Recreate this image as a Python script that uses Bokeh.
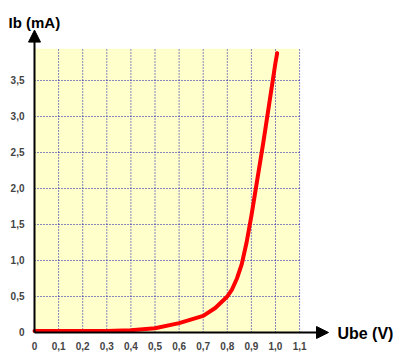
from bokeh.plotting import figure
from bokeh.models import Range1d, FixedTicker, Arrow, NormalHead, Label
from bokeh.embed import file_html
from bokeh.resources import INLINE

# ---- data ----
ube = [0, 0.1, 0.2, 0.3, 0.4, 0.5, 0.6, 0.7, 0.75, 0.8, 0.82, 0.84, 0.86, 0.88, 0.9, 0.95, 1.0, 1.007]
ib = [0.02, 0.02, 0.02, 0.022, 0.03, 0.06, 0.13, 0.23, 0.34, 0.5, 0.6, 0.75, 0.95, 1.25, 1.62, 2.65, 3.75, 3.88]

x_ticks = [0, 0.1, 0.2, 0.3, 0.4, 0.5, 0.6, 0.7, 0.8, 0.9, 1.0, 1.1]
x_labels = ["0", "0,1", "0,2", "0,3", "0,4", "0,5", "0,6", "0,7", "0,8", "0,9", "1,0", "1,1"]
y_ticks = [0, 0.5, 1.0, 1.5, 2.0, 2.5, 3.0, 3.5]
y_labels = ["0", "0,5", "1,0", "1,5", "2,0", "2,5", "3,0", "3,5"]

x_title = "Ube (V)"
y_title = "Ib (mA)"

# plotting area (yellow box) and view extents, in data units
X_MAX = 1.1
Y_MAX = 3.94
X_VIEW = (-0.1411, 1.5187)
Y_VIEW = (-0.3056, 4.611)
X_ARROW_END = 1.22
Y_ARROW_END = 4.2

FONT = "Liberation Sans"
GRID_COLOR = "#1010a8"

p = figure(width=400, height=354, output_backend="svg", toolbar_location=None,
           x_range=Range1d(*X_VIEW), y_range=Range1d(*Y_VIEW),
           min_border=0)

p.background_fill_color = "white"
p.border_fill_color = "white"
p.outline_line_color = None
p.grid.visible = False

# yellow plotting area
p.quad(left=[0], right=[X_MAX], bottom=[0], top=[Y_MAX],
       fill_color="#ffffcc", line_color=None, level="image")

# dotted grid, limited to the yellow area
gx = x_ticks[1:]
gy = y_ticks[1:]
p.segment(x0=gx, y0=[0] * len(gx), x1=gx, y1=[Y_MAX] * len(gx),
          line_color=GRID_COLOR, line_width=1, line_dash="1 2")
p.segment(x0=[0] * len(gy), y0=gy, x1=[X_MAX] * len(gy), y1=gy,
          line_color=GRID_COLOR, line_width=1, line_dash="1 2")

# axes (labels only; axis lines drawn as arrows)
for ax, ticks, labels in ((p.xaxis[0], x_ticks, x_labels), (p.yaxis[0], y_ticks, y_labels)):
    ax.ticker = FixedTicker(ticks=ticks)
    ax.major_label_overrides = {t: l for t, l in zip(ticks, labels)}
    ax.axis_line_color = None
    ax.major_tick_line_color = None
    ax.minor_tick_line_color = None
    ax.major_label_text_font = FONT
    ax.major_label_text_font_style = "bold"
    ax.major_label_text_font_size = "10px"
    ax.major_label_text_color = "#444444"
    ax.fixed_location = 0
p.xaxis.major_label_standoff = 4
p.yaxis.major_label_standoff = 4

# curve
p.line(ube, ib, line_color="#ff0000", line_width=4, line_join="round", line_cap="round")

# axis arrows
p.add_layout(Arrow(x_start=0, y_start=0, x_end=X_ARROW_END, y_end=0,
                   line_color="black", line_width=2,
                   end=NormalHead(size=12, fill_color="black", line_color="black")))
p.add_layout(Arrow(x_start=0, y_start=0, x_end=0, y_end=Y_ARROW_END,
                   line_color="black", line_width=2,
                   end=NormalHead(size=12, fill_color="black", line_color="black")))

# axis titles
p.add_layout(Label(x=1.257, y=-0.02, text=x_title, text_font=FONT, text_font_style="bold",
                   text_font_size="16px", text_baseline="middle", text_color="black"))
p.add_layout(Label(x=-0.108, y=4.31, text=y_title, text_font=FONT, text_font_style="bold",
                   text_font_size="15px", text_baseline="alphabetic", text_color="black"))

open("out.html", "w").write(file_html(p, INLINE))
